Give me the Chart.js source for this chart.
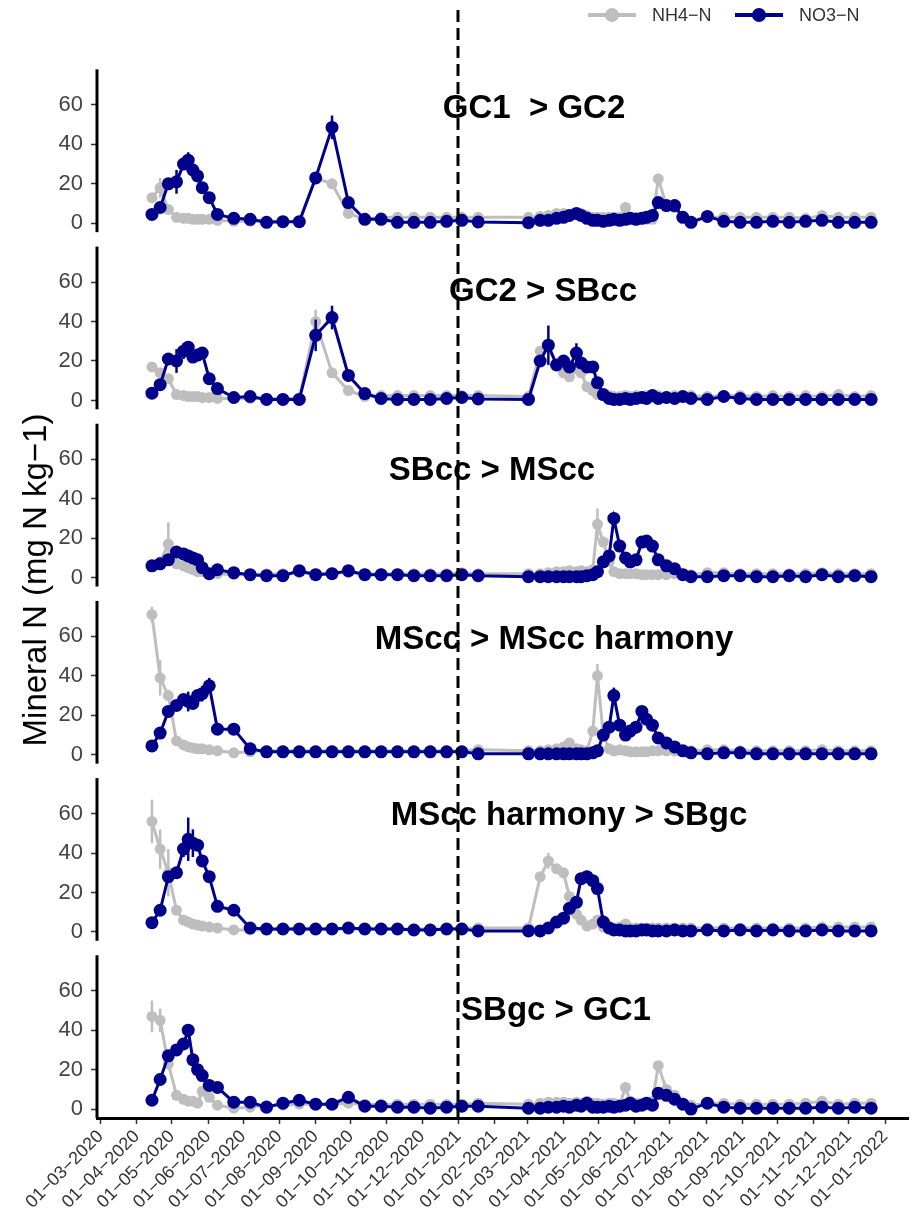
<!DOCTYPE html>
<html>
<head>
<meta charset="utf-8">
<script src="https://cdn.jsdelivr.net/npm/chart.js@4.4.1/dist/chart.umd.min.js"></script>
<style>
  html, body { margin: 0; padding: 0; background: #fff; }
  #wrap { width: 915px; height: 1222px; }
</style>
</head>
<body>
<div id="wrap"><canvas id="myChart" width="915" height="1222"></canvas></div>
<script>
// Datas de amostragem (iguais para todos os painéis)
const sampleDates = [
  '2020-04-14', '2020-04-21', '2020-04-28', '2020-05-05', '2020-05-11', '2020-05-15', '2020-05-19',
  '2020-05-23', '2020-05-27', '2020-06-02', '2020-06-09', '2020-06-23', '2020-07-07', '2020-07-21',
  '2020-08-04', '2020-08-18', '2020-09-01', '2020-09-15', '2020-09-29', '2020-10-13', '2020-10-27',
  '2020-11-10', '2020-11-24', '2020-12-08', '2020-12-22',
  '2021-01-04', '2021-01-18', '2021-03-02', '2021-03-12', '2021-03-19', '2021-03-26', '2021-04-01',
  '2021-04-06', '2021-04-12', '2021-04-16', '2021-04-21', '2021-04-26', '2021-04-30', '2021-05-05',
  '2021-05-10', '2021-05-14', '2021-05-19', '2021-05-24', '2021-05-28', '2021-06-02', '2021-06-07',
  '2021-06-11', '2021-06-16', '2021-06-21', '2021-06-28', '2021-07-05', '2021-07-12', '2021-07-19',
  '2021-08-02', '2021-08-16', '2021-08-30', '2021-09-13', '2021-09-27', '2021-10-11', '2021-10-25',
  '2021-11-08', '2021-11-22', '2021-12-06', '2021-12-20'
];

const panelTitles = ['GC1  > GC2', 'GC2 > SBcc', 'SBcc > MScc', 'MScc > MScc harmony', 'MScc harmony > SBgc', 'SBgc > GC1'];
const seriesNames = ['NH4\u2212N', 'NO3\u2212N'];
const tickLabels = [
  '01\u221203\u22122020', '01\u221204\u22122020', '01\u221205\u22122020', '01\u221206\u22122020', '01\u221207\u22122020',
  '01\u221208\u22122020', '01\u221209\u22122020', '01\u221210\u22122020', '01\u221211\u22122020', '01\u221212\u22122020',
  '01\u221201\u22122021', '01\u221202\u22122021', '01\u221203\u22122021', '01\u221204\u22122021', '01\u221205\u22122021',
  '01\u221206\u22122021', '01\u221207\u22122021', '01\u221208\u22122021', '01\u221209\u22122021', '01\u221210\u22122021',
  '01\u221211\u22122021', '01\u221212\u22122021', '01\u221201\u22122022'
];
const yTicks = [0, 20, 40, 60];
const rotationStart = '2021-01-01';

// Painel 1: GC1 > GC2
const nh4P1 = [13, 18, 7, 3, 2.5, 2.5, 2, 2, 2, 2, 1.5, 1, 1, 1, 1, 1, 23, 20, 5, 2, 3, 3, 3, 3, 3,
  3, 3, 3, 3.5, 4, 5, 5, 4, 5, 5, 4, 3, 3, 3, 3, 3, 3, 8, 3, 3, 2.5, 2, 2, 22.5, 9, 8, 3, 1, 3, 3,
  3, 3, 3, 3, 2.5, 4, 3, 3, 3];
const no3P1 = [4.5, 8, 20, 21, 30, 32, 27, 24, 18, 13, 4.5, 2.5, 2, 0.5, 0.8, 0.8, 23, 48.6, 10.5, 2, 2, 0.5, 0.5, 0.5, 1,
  1.5, 0.7, 0.3, 1.5, 1.5, 2.5, 3, 4, 5, 4, 2.5, 1.5, 1.5, 1, 1.5, 2, 1.5, 2, 2.5, 2, 2.5, 3, 4, 10.5, 9, 9, 3, 0.5, 3.5, 1,
  0.5, 0.5, 1, 0.5, 1, 1.5, 0.5, 0.5, 0.5];
// Painel 2: GC2 > SBcc
const nh4P2 = [17, 14, 11, 3, 2.5, 2, 2, 2, 1.5, 1.5, 1, 1, 1, 1, 1, 1, 40, 14, 5, 2, 2.5, 2.5, 2.5, 2.5, 2.5,
  2.5, 2.5, 2, 25, 27, 18, 14, 12, 16, 14, 7, 5, 3, 2.5, 2.5, 2, 2, 2.5, 2, 2.5, 2, 2.5, 2, 2.5, 2, 2.5, 2, 2.5, 2, 2.5,
  2.5, 2, 2.5, 2, 2.5, 2, 3, 2, 2.5];
const no3P2 = [3.7, 8, 21, 20, 25, 27, 22, 23, 24, 11, 6, 1.5, 2, 0.5, 0.5, 0.5, 33, 42, 12.7, 3.5, 1, 0.5, 0.5, 0.5, 1,
  1.5, 0.8, 0.5, 20, 28, 18, 20, 17, 24, 19, 17, 17, 9, 3, 1, 0.5, 0.5, 1, 0.5, 1, 1.5, 1, 2.5, 1, 1.5, 1, 2, 1, 0.5, 2,
  1, 0.5, 0.5, 0.5, 0.5, 0.5, 0.5, 0.5, 0.5];
// Painel 3: SBcc > MScc
const nh4P3 = [6, 8, 17, 7, 6, 5, 4, 3, 3, 2, 2, 1.5, 1.5, 2, 2, 2.5, 2, 2.5, 2.5, 2, 2, 2, 2, 2, 2,
  2.5, 2, 2, 2, 2.5, 3, 3, 3.5, 3, 3.5, 3, 4, 27, 18, 8, 3, 2, 2, 2, 2, 1.5, 1.5, 1.5, 1.5, 1.5, 2, 2, 1.5, 2.5, 2.5,
  2, 2, 2, 2, 2, 2.5, 2, 2, 2];
const no3P3 = [6, 7, 9, 13, 12, 11, 10, 9, 5, 2, 4, 2.5, 1.5, 1, 1, 3.5, 1.5, 2, 3.5, 1.5, 1.5, 1.5, 1, 1, 1,
  1.5, 1, 0.5, 0.5, 0.5, 0.5, 0.5, 0.5, 0.5, 0.5, 1, 1.5, 3, 8, 11, 30, 16, 10, 8, 9, 18, 18.5, 16, 9, 6, 4.5, 1.5, 0.5, 0.5, 1,
  1, 0.5, 0.5, 1, 0.5, 1.5, 0.5, 1, 0.5];
// Painel 4: MScc > MScc harmony
const nh4P4 = [71, 39, 30, 7, 5, 4, 3.5, 3, 3, 2.5, 2, 1, 1.5, 2, 2, 2, 2, 2, 2, 2, 2, 2, 2, 2, 2,
  2, 2.5, 2, 2, 2.5, 3, 4, 6, 3, 2.5, 2, 12, 40, 10, 3, 2, 2.5, 2, 1.5, 1.5, 1.5, 1.5, 2, 2, 2, 2, 2, 2, 2.5, 2.5,
  2, 2, 2, 2, 2, 2.5, 2, 2, 2];
const no3P4 = [4.5, 11, 22, 25, 28, 27, 26, 30, 31, 35, 13, 13, 3, 1.5, 1.5, 1.5, 1.5, 1.5, 1.5, 1.5, 1.5, 1.5, 1.5, 1.5, 1.5,
  1.5, 0.5, 0.5, 0.5, 0.5, 0.5, 0.5, 0.5, 0.5, 0.5, 0.5, 1, 2, 10, 14, 30, 15, 10, 12, 14, 22, 18, 15, 8.5, 6, 4, 2, 1, 0.5, 1,
  1, 0.5, 0.5, 0.5, 0.5, 0.5, 0.5, 0.5, 0.5];
// Painel 5: MScc harmony > SBgc
const nh4P5 = [56, 42, 30, 11, 6, 5, 4, 3.5, 3, 2.5, 2, 1, 1, 1, 1.5, 1.5, 1.5, 1.5, 1.5, 1.5, 1.5, 1.5, 1.5, 1.5, 1.5,
  2, 2, 2, 28, 36, 32, 30, 18, 9, 6, 3, 4, 6, 2.5, 2.5, 2, 2.5, 4, 2, 2, 2, 2, 2, 2, 2, 2, 2, 2, 2, 2,
  2, 2, 2, 2, 2, 2.5, 2.5, 2.5, 2.5];
const no3P5 = [4.7, 11, 28, 30, 42, 47, 45, 44, 36, 28, 13, 11, 2, 1.5, 1.5, 1.5, 1.5, 1.5, 2, 1.5, 1.5, 1.5, 1, 1, 1.5,
  1.5, 0.5, 0.5, 0.5, 2, 5, 7, 12, 15, 27, 28, 26, 22, 5, 2, 1, 1, 0.5, 0.5, 0.5, 1, 1, 0.5, 0.5, 0.5, 1, 0.5, 0.5, 1, 0.5,
  1, 0.5, 1, 0.5, 0.5, 1, 0.5, 0.5, 0.5];
// Painel 6: SBgc > GC1
const nh4P6 = [47, 45, 23, 7, 5, 4, 4, 3, 9, 6, 2, 0.5, 1, 2, 2, 2.5, 2.5, 2.5, 3, 2.5, 2.5, 2.5, 2.5, 2.5, 2.5,
  2.5, 3, 2.5, 3, 3.5, 3.5, 3.5, 3, 3.5, 3, 4, 3, 3, 2.5, 3, 3, 2.5, 11, 4, 3, 3, 3, 4, 22, 10, 7, 3, 2, 3, 3,
  2.5, 2.5, 2.5, 2.5, 3, 4, 2.5, 3, 3];
const no3P6 = [4.5, 15, 27, 30, 33, 40, 25, 20, 17, 12, 11, 3.5, 3.5, 1, 3, 4.5, 2.5, 2.5, 6, 1.5, 1.5, 1, 1, 0.5, 1,
  1.5, 1.5, 0.5, 0.5, 1, 1, 1.5, 1, 2, 1.5, 3, 1, 1, 1, 1.5, 1, 1.5, 2, 3, 1.5, 2, 3, 2, 8, 7, 5, 2.5, 0, 3, 1,
  0.5, 0.5, 0.5, 0.5, 0.5, 1, 0.5, 1, 0.5];

// Barras de erro (só as visíveis), por painel: data -> erro
const nh4Err = [
  { '2020-04-21': 5 },
  { '2020-09-01': 6 },
  { '2020-04-28': 11, '2021-04-30': 8 },
  { '2020-04-14': 4, '2020-04-21': 9, '2021-04-30': 6 },
  { '2020-04-14': 11, '2020-04-21': 10, '2020-04-28': 12, '2021-03-19': 4 },
  { '2020-04-14': 8, '2020-04-21': 6 }
];
const no3Err = [
  { '2020-05-05': 6, '2020-05-15': 4, '2020-09-15': 6 },
  { '2020-05-05': 6, '2020-05-11': 4, '2020-09-01': 8, '2020-09-15': 6, '2021-03-19': 10, '2021-04-12': 5 },
  { '2020-05-05': 3, '2021-05-14': 3, '2021-06-07': 3 },
  { '2020-05-15': 5, '2020-05-27': 4, '2020-06-02': 4, '2021-05-14': 4 },
  { '2020-05-11': 4, '2020-05-15': 11, '2020-05-19': 7, '2021-04-21': 3 },
  { '2020-05-15': 3, '2020-09-29': 3 }
];

const nh4Series = [nh4P1, nh4P2, nh4P3, nh4P4, nh4P5, nh4P6];
const no3Series = [no3P1, no3P2, no3P3, no3P4, no3P5, no3P6];

const NH4_COLOR = '#BEBEBE';
const NO3_COLOR = '#00008B';
const FONT = '"Liberation Sans", Arial, sans-serif';
const Y_MIN = -4.5, Y_AXIS_TOP = 78, Y_MAX = 85.3;

const day = s => Date.parse(s + 'T00:00:00Z');
const tickValue = lbl => { const p = lbl.split('\u2212'); return Date.UTC(+p[2], +p[1] - 1, +p[0]); };

// monta os datasets (NH4 por baixo, NO3 por cima)
const datasets = [];
const errorLists = [];
panelTitles.forEach((t, i) => {
  [[nh4Series[i], NH4_COLOR, 1, nh4Err[i], 5.5], [no3Series[i], NO3_COLOR, 0, no3Err[i], 6.5]].forEach(([vals, color, order, errs, r], k) => {
    datasets.push({
      label: seriesNames[k],
      data: sampleDates.map((d, j) => ({ x: day(d), y: vals[j] })),
      xAxisID: 'x',
      yAxisID: 'y' + i,
      borderColor: color,
      backgroundColor: color,
      borderWidth: 3,
      pointRadius: r,
      pointBorderWidth: 0,
      pointHoverRadius: r,
      tension: 0,
      order: order
    });
    errorLists.push({ errs: errs, vals: vals, color: color });
  });
});

const scales = {
  x: {
    type: 'linear',
    position: 'bottom',
    min: day('2020-02-27'),
    max: day('2022-01-21'),
    afterBuildTicks: axis => { axis.ticks = tickLabels.map(l => ({ value: tickValue(l) })); },
    afterFit: axis => { axis.height = 104; },
    ticks: {
      autoSkip: false,
      minRotation: 45,
      maxRotation: 45,
      padding: 2,
      color: '#333',
      font: { family: FONT, size: 18 },
      callback: (v, idx) => tickLabels[idx]
    },
    grid: { drawOnChartArea: false, tickLength: 6, tickWidth: 1.5, color: '#333' },
    border: { display: true, color: '#000', width: 3 }
  }
};
// eixos y empilhados: o último definido fica no topo
for (let i = panelTitles.length - 1; i >= 0; i--) {
  scales['y' + i] = {
    type: 'linear',
    position: 'left',
    stack: 'panels',
    stackWeight: 1,
    min: Y_MIN,
    max: Y_MAX,
    afterBuildTicks: axis => { axis.ticks = yTicks.map(v => ({ value: v })); },
    afterFit: axis => { axis.width = 97; },
    ticks: { color: '#444', padding: 8, font: { family: FONT, size: 22 } },
    grid: { drawOnChartArea: false, tickLength: 6, tickWidth: 1.5, color: '#333' },
    border: { display: false }
  };
}

const panelDecor = {
  id: 'panelDecor',
  beforeDatasetDraw(chart, args) {
    const info = errorLists[args.index];
    const ds = chart.data.datasets[args.index];
    const x = chart.scales.x, y = chart.scales[ds.yAxisID];
    const ctx = chart.ctx;
    ctx.save();
    ctx.strokeStyle = info.color;
    ctx.lineWidth = 2.5;
    Object.keys(info.errs).forEach(d => {
      const j = sampleDates.indexOf(d);
      if (j < 0) return;
      const v = info.vals[j], e = info.errs[d];
      const px = x.getPixelForValue(day(d));
      ctx.beginPath();
      ctx.moveTo(px, y.getPixelForValue(v - e));
      ctx.lineTo(px, y.getPixelForValue(v + e));
      ctx.stroke();
    });
    ctx.restore();
  },
  afterDraw(chart, args, opts) {
    const { ctx, chartArea, scales } = chart;
    ctx.save();
    // linhas dos eixos y de cada painel e títulos
    panelTitles.forEach((t, i) => {
      const y = scales['y' + i];
      ctx.strokeStyle = '#000';
      ctx.lineWidth = 3;
      ctx.beginPath();
      ctx.moveTo(chartArea.left, y.getPixelForValue(Y_AXIS_TOP));
      ctx.lineTo(chartArea.left, y.getPixelForValue(Y_MIN));
      ctx.stroke();
      ctx.fillStyle = '#000';
      ctx.font = 'bold 33px ' + FONT;
      ctx.textAlign = 'center';
      ctx.textBaseline = 'middle';
      ctx.fillText(t, opts.titleX[i], y.getPixelForValue(opts.titleY[i]));
    });
    // título do eixo y
    ctx.save();
    ctx.translate(opts.yTitleX, opts.yTitleY);
    ctx.rotate(-Math.PI / 2);
    ctx.font = '33px ' + FONT;
    ctx.fillStyle = '#000';
    ctx.textAlign = 'center';
    ctx.textBaseline = 'middle';
    ctx.fillText('Mineral N (mg N kg\u22121)', 0, 0);
    ctx.restore();
    // linha tracejada na troca de ano
    const xr = Math.round(scales.x.getPixelForValue(day(rotationStart)));
    ctx.strokeStyle = '#000';
    ctx.lineWidth = 3;
    ctx.setLineDash([12, 6]);
    ctx.beginPath();
    ctx.moveTo(xr, 10);
    ctx.lineTo(xr, chartArea.bottom);
    ctx.stroke();
    ctx.setLineDash([]);
    // legenda
    const colors = [NH4_COLOR, NO3_COLOR];
    ctx.font = '18px ' + FONT;
    ctx.textAlign = 'left';
    ctx.textBaseline = 'middle';
    seriesNames.forEach((name, k) => {
      const lx = opts.legendX[k], ly = opts.legendY;
      ctx.strokeStyle = colors[k];
      ctx.fillStyle = colors[k];
      ctx.lineWidth = 4;
      ctx.beginPath();
      ctx.moveTo(lx, ly);
      ctx.lineTo(lx + 48, ly);
      ctx.stroke();
      ctx.beginPath();
      ctx.arc(lx + 24, ly, 7, 0, Math.PI * 2);
      ctx.fill();
      ctx.fillStyle = '#333';
      ctx.fillText(name, lx + 64, ly + 1);
    });
    ctx.restore();
  }
};

const ctx = document.getElementById('myChart').getContext('2d');
const myChart = new Chart(ctx, {
  type: 'line',
  data: { datasets: datasets },
  options: {
    responsive: false,
    animation: false,
    devicePixelRatio: 1,
    layout: { padding: { top: 55, right: 5, bottom: 0, left: 0 } },
    scales: scales,
    plugins: {
      legend: { display: false },
      tooltip: { enabled: false },
      panelDecor: {
        titleX: [534, 543, 492, 554, 569, 556],
        titleY: [58, 55, 54, 58, 59, 50],
        yTitleX: 37,
        yTitleY: 580,
        legendX: [588, 735],
        legendY: 15
      }
    }
  },
  plugins: [panelDecor]
});
</script>
</body>
</html>
